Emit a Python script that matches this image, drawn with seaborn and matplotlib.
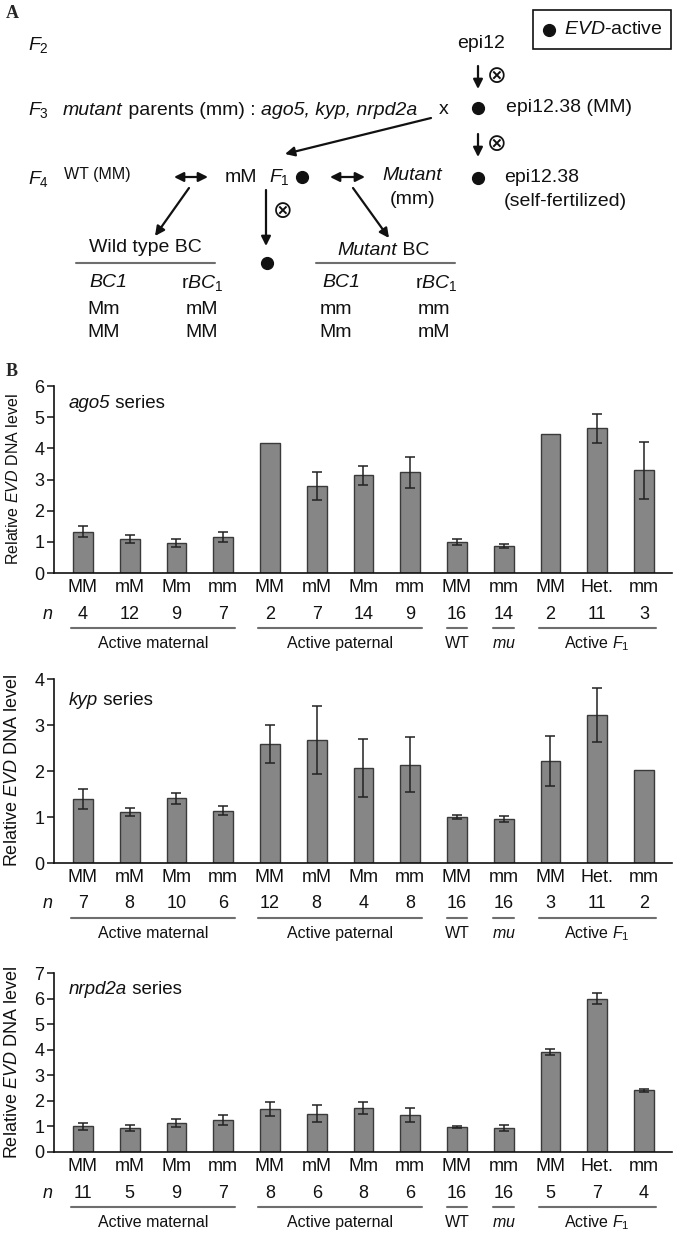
import numpy as np
import pandas as pd
import seaborn as sns
import matplotlib.pyplot as plt
from matplotlib.lines import Line2D
from matplotlib.patches import Rectangle
from matplotlib.transforms import ScaledTranslation

sns.set_style("ticks")
plt.rcParams['font.family'] = ['Liberation Sans', 'DejaVu Sans']
plt.rcParams['mathtext.fontset'] = 'custom'
plt.rcParams['mathtext.rm'] = 'Liberation Sans'
plt.rcParams['mathtext.it'] = 'Liberation Sans:italic'
plt.rcParams['mathtext.bf'] = 'Liberation Sans:bold'

# data
slots = ["mat_MM", "mat_mM", "mat_Mm", "mat_mm", "pat_MM", "pat_mM", "pat_Mm", "pat_mm",
         "wt_MM", "mu_mm", "f1_MM", "f1_Het", "f1_mm"]
genotypes = ["MM", "mM", "Mm", "mm", "MM", "mM", "Mm", "mm", "MM", "mm", "MM", "Het.", "mm"]
group_names = ["Active maternal", "Active paternal", "WT", r"$\mathit{mu}$", r"Active $F_1$"]
group_start = [0, 4, 8, 9, 10]
group_end = [3, 7, 8, 9, 12]

ago5_mean = [1.32, 1.08, 0.96, 1.17, 4.16, 2.80, 3.13, 3.23, 0.99, 0.86, 4.46, 4.64, 3.30]
ago5_err = [0.18, 0.13, 0.12, 0.16, 0.0, 0.45, 0.31, 0.50, 0.09, 0.07, 0.0, 0.47, 0.91]
ago5_n = [4, 12, 9, 7, 2, 7, 14, 9, 16, 14, 2, 11, 3]

kyp_mean = [1.39, 1.11, 1.41, 1.14, 2.59, 2.68, 2.07, 2.14, 1.00, 0.96, 2.22, 3.22, 2.02]
kyp_err = [0.21, 0.09, 0.12, 0.09, 0.42, 0.74, 0.63, 0.60, 0.05, 0.06, 0.55, 0.59, 0.0]
kyp_n = [7, 8, 10, 6, 12, 8, 4, 8, 16, 16, 3, 11, 2]

nrpd_mean = [1.00, 0.95, 1.13, 1.24, 1.68, 1.50, 1.71, 1.45, 0.98, 0.93, 3.91, 6.00, 2.41]
nrpd_err = [0.13, 0.11, 0.17, 0.20, 0.29, 0.34, 0.23, 0.27, 0.04, 0.12, 0.13, 0.22, 0.07]
nrpd_n = [11, 5, 9, 7, 8, 6, 8, 6, 16, 16, 5, 7, 4]

W, H = 673, 1237
fig = plt.figure(figsize=(W / 100, H / 100), dpi=100)
TXT = '#111111'
BAR = '#868686'


def rich(ax, x, y, parts, size=14, transform=None):
    # chain text pieces (normal / italic) on one baseline
    if transform is None:
        transform = ax.transData
    s, st = parts[0]
    prev = ax.text(x, y, s, fontstyle=st, fontsize=size, va='baseline', ha='left',
                   transform=transform, color=TXT)
    for s, st in parts[1:]:
        prev = ax.annotate(s, xy=(1, y), xycoords=(prev, transform), va='baseline',
                           ha='left', fontsize=size, fontstyle=st, color=TXT,
                           annotation_clip=False)


def series_panel(rect, mean, err, n, ymax, gene, ylab_size, lab_y):
    ax = fig.add_axes(rect)
    df = pd.DataFrame({'slot': slots, 'val': mean})
    sns.barplot(data=df, x='slot', y='val', order=slots, ax=ax, color=BAR,
                saturation=1, width=0.42, edgecolor='#3a3a3a', linewidth=1,
                errorbar=None)
    e = np.array(err)
    idx = np.where(e > 0)[0]
    ax.errorbar(idx, np.array(mean)[idx], yerr=e[idx], fmt='none',
                ecolor='#222222', elinewidth=1.1, capsize=3.5, capthick=1.1, zorder=5)
    ax.set_xlim(-0.62, 12.6)
    ax.set_ylim(0, ymax)
    ax.set_yticks(range(ymax + 1))
    ax.set_xticks(range(len(slots)))
    ax.set_xticklabels(genotypes)
    ax.tick_params(axis='x', length=0, pad=4, labelsize=13, labelcolor=TXT)
    ax.tick_params(axis='y', length=5, width=1.2, pad=2, labelsize=13, labelcolor=TXT)
    sns.despine(ax=ax)
    for s in ['left', 'bottom']:
        ax.spines[s].set_linewidth(1.2)
        ax.spines[s].set_color('#111111')
    ax.set_xlabel('')
    ax.set_ylabel(r"Relative $\mathit{EVD}$ DNA level", fontsize=ylab_size, color=TXT)
    ax.yaxis.set_label_coords(-0.054, 0.5)
    rich(ax, 0.024, lab_y, [(gene, 'italic'), (' series', 'normal')], size=13.5,
         transform=ax.transAxes)

    # n row, underlines and group labels below the axis
    xt = ax.get_xaxis_transform()
    ax.annotate(r"$n$", xy=(-0.75, 0), xycoords=xt, textcoords='offset points',
                xytext=(0, -41 * 0.72), ha='center', va='center', fontsize=13,
                color=TXT, annotation_clip=False)
    for i, v in enumerate(n):
        ax.annotate(str(v), xy=(i, 0), xycoords=xt, textcoords='offset points',
                    xytext=(0, -41 * 0.72), ha='center', va='center', fontsize=13,
                    color=TXT, annotation_clip=False)
    off = ScaledTranslation(0, -0.55, fig.dpi_scale_trans)
    for name, a, b in zip(group_names, group_start, group_end):
        pad = 0.25 if b > a else 0.22
        ax.add_line(Line2D([a - pad, b + pad], [0, 0], transform=xt + off,
                           color='#6e6e6e', lw=1.5, clip_on=False))
        ax.annotate(name, xy=((a + b) / 2, 0), xycoords=xt, textcoords='offset points',
                    xytext=(0, -75 * 0.72), ha='center', va='baseline', fontsize=11.5,
                    color=TXT, annotation_clip=False)
    return ax


left, width = 54 / W, (672 - 54) / W
series_panel([left, 1 - 573 / H, width, 187 / H], ago5_mean, ago5_err, ago5_n, 6,
             "ago5", 11.5, 0.885)
series_panel([left, 1 - 863 / H, width, 184 / H], kyp_mean, kyp_err, kyp_n, 4,
             "kyp", 13, 0.86)
series_panel([left, 1 - 1152 / H, width, 179 / H], nrpd_mean, nrpd_err, nrpd_n, 7,
             "nrpd2a", 13, 0.883)

# panel A: crossing scheme, drawn in pixel coordinates
axA = fig.add_axes([0, 1 - 360 / H, 1, 360 / H])
axA.set_xlim(0, W)
axA.set_ylim(360, 0)
axA.axis('off')


def t(x, y, s, ha='left', size=14, **kw):
    axA.text(x, y, s, ha=ha, va='center', fontsize=size, color=TXT, **kw)


def dot(x, y):
    axA.plot([x], [y], 'o', ms=8.5, color='#111111')


def arrow(x0, y0, x1, y1, style='-|>'):
    axA.annotate('', xy=(x1, y1), xytext=(x0, y0),
                 arrowprops=dict(arrowstyle=style, lw=1.6, color='#111111',
                                 mutation_scale=14, shrinkA=0, shrinkB=0))


# legend box
axA.add_patch(Rectangle((533, 10), 138, 39, fill=False, lw=1.2, ec='#111111'))
dot(549, 30)
t(564, 30, r"$\mathit{EVD}$-active")

t(28, 45, r"$F_2$")
t(481, 43, "epi12", ha='center')
arrow(478, 66, 478, 89)
t(497, 77, "⊗", ha='center', size=17)

t(28, 110, r"$F_3$")
rich(axA, 63, 115, [("mutant", 'italic'), (" parents (mm) : ", 'normal'),
                    ("ago5, kyp, nrpd2a", 'italic')])
t(444, 110, "x", ha='center')
dot(478, 108)
t(506, 108, "epi12.38 (MM)")
arrow(478, 134, 478, 157)
t(497, 145, "⊗", ha='center', size=17)

t(28, 179, r"$F_4$")
t(64, 175, "WT (MM)", size=11.5)
arrow(174, 177, 208, 177, style='<|-|>')
t(225, 177, "mM")
t(269, 177, r"$F_1$")
dot(302, 177)
arrow(330, 177, 365, 177, style='<|-|>')
t(412, 175, "Mutant", ha='center', fontstyle='italic')
t(413, 199, "(mm)", ha='center')
dot(478, 178)
t(504, 178, "epi12.38")
t(504, 202, "(self-fertilized)")

arrow(431, 118, 285, 154)
arrow(189, 188, 155, 236)
arrow(266, 190, 266, 246)
t(283, 212, "⊗", ha='center', size=17)
arrow(353, 188, 389, 238)

t(145, 248, "Wild type BC", ha='center')
axA.plot([76, 215], [263, 263], color='#6e6e6e', lw=1.5)
dot(267, 263)
rich(axA, 337, 255, [("Mutant", 'italic'), (" BC", 'normal')])
axA.plot([316, 455], [263, 263], color='#6e6e6e', lw=1.5)

t(108, 283, "BC1", ha='center', fontstyle='italic')
t(202, 283, r"r$\mathit{BC}_1$", ha='center')
t(341, 283, "BC1", ha='center', fontstyle='italic')
t(436, 283, r"r$\mathit{BC}_1$", ha='center')

t(104, 310, "Mm", ha='center')
t(202, 310, "mM", ha='center')
t(336, 310, "mm", ha='center')
t(434, 310, "mm", ha='center')
t(104, 333, "MM", ha='center')
t(202, 333, "MM", ha='center')
t(336, 333, "Mm", ha='center')
t(434, 333, "mM", ha='center')

fig.text(6 / W, 1 - 13 / H, "A", fontsize=13, fontweight='bold', va='center',
         family='Liberation Serif')
fig.text(6 / W, 1 - 372 / H, "B", fontsize=13, fontweight='bold', va='center',
         family='Liberation Serif')

fig.savefig('out.png', dpi=100)
